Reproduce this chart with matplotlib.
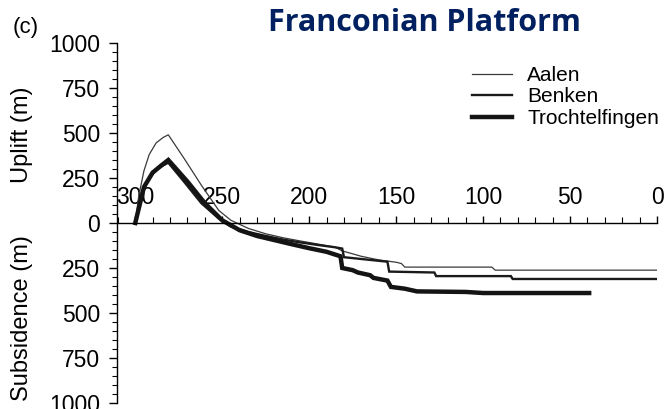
import numpy as np
import matplotlib.pyplot as plt
from matplotlib.ticker import MultipleLocator, FuncFormatter

plt.rcParams['font.family'] = ['Liberation Sans', 'DejaVu Sans']

# Burial / uplift histories, age in Ma vs. vertical movement in m
# (positive = uplift, negative = subsidence)
aalen_age = [300, 298, 295, 292, 288, 284, 281, 272, 262, 252, 245, 235, 225, 215,
             205, 195, 185, 181, 170, 160, 150, 147, 145, 95, 93, 0]
aalen_val = [0, 150, 290, 380, 445, 475, 490, 360, 210, 70, 15, -30, -60, -82,
             -100, -117, -135, -155, -185, -205, -218, -225, -245, -245, -262, -262]

benken_age = [300, 296, 292, 288, 284, 281, 272, 262, 252, 245, 235, 225, 215,
              205, 195, 185, 181, 180, 170, 155, 154, 128, 127, 84, 83, 0]
benken_val = [0, 170, 250, 295, 320, 335, 230, 110, 25, -20, -50, -72, -92,
              -108, -122, -135, -142, -190, -200, -215, -270, -275, -295, -295, -311, -311]

troch_age = [300, 295, 290, 285, 281, 270, 260, 250, 240, 230, 220, 210, 200,
             190, 182, 181, 175, 172, 165, 163, 155, 153, 145, 138, 110, 100, 39]
troch_val = [0, 200, 280, 320, 350, 230, 110, 15, -40, -72, -95, -118, -140,
             -160, -185, -250, -262, -275, -290, -305, -320, -355, -365, -380, -383, -389, -389]

series = [
    ('Aalen', aalen_age, aalen_val, 0.9, '#3a3a3a'),
    ('Benken', benken_age, benken_val, 1.7, '#1a1a1a'),
    ('Trochtelfingen', troch_age, troch_val, 3.2, '#141414'),
]

fig = plt.figure(figsize=(6.64, 4.09), dpi=100)
ax = fig.add_axes([117 / 664, 6 / 409, 540 / 664, 360 / 409])

for name, age, val, lw, col in series:
    ax.plot(age, val, color=col, lw=lw, label=name, solid_joinstyle='miter')

ax.set_xlim(310.5, 0)
ax.set_ylim(-1000, 1000)

# x axis drawn through zero, ticks and labels above it
ax.spines['right'].set_visible(False)
ax.spines['bottom'].set_visible(False)
ax.spines['top'].set_position(('data', 0))
ax.xaxis.set_ticks_position('top')
ax.xaxis.set_major_locator(MultipleLocator(50))
ax.xaxis.set_minor_locator(MultipleLocator(10))
ax.tick_params(axis='x', which='major', direction='out', length=5, width=1,
               labelsize=16.5, pad=5)
ax.tick_params(axis='x', which='minor', direction='out', length=4, width=0.8)

ax.yaxis.set_major_locator(MultipleLocator(250))
ax.yaxis.set_minor_locator(MultipleLocator(50))
ax.yaxis.set_major_formatter(FuncFormatter(lambda v, p: f"{abs(v):.0f}"))
ax.tick_params(axis='y', which='major', direction='out', length=6, width=1,
               labelsize=16.5, pad=6)
ax.tick_params(axis='y', which='minor', direction='out', length=3.5, width=0.8)
for sp in ax.spines.values():
    sp.set_linewidth(1)

ax.legend(loc='upper left', bbox_to_anchor=(472 / 664, 1 - 66 / 409),
          bbox_transform=fig.transFigure, frameon=False, fontsize=15,
          borderpad=0, borderaxespad=0, labelspacing=0.12,
          handlelength=1.9, handletextpad=0.75)

fig.text(22 / 664, 1 - 135 / 409, 'Uplift (m)', rotation=90, fontsize=17,
         ha='center', va='center')
fig.text(22 / 664, 1 - 318 / 409, 'Subsidence (m)', rotation=90, fontsize=17,
         ha='center', va='center')
fig.text(26 / 664, 1 - 28 / 409, '(c)', fontsize=16, ha='center', va='center')
fig.text(424 / 664, 1 - 23 / 409, 'Franconian Platform', fontsize=22,
         fontweight='bold', color='#002060', family='Open Sans',
         ha='center', va='center')

fig.savefig('out.png', dpi=100)
